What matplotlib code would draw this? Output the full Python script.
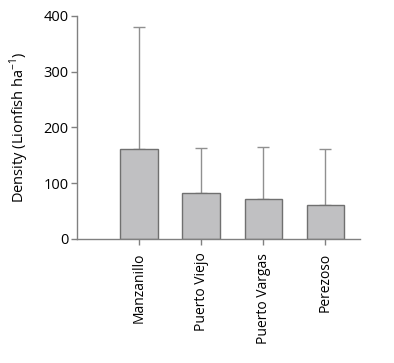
import matplotlib
matplotlib.use("Agg")
import matplotlib.pyplot as plt

# data
sites = ["Manzanillo", "Puerto Viejo", "Puerto Vargas", "Perezoso"]
density = [161, 82, 72, 61]
err_up = [219, 81, 93, 100]

plt.rcParams["font.family"] = ["Open Sans", "DejaVu Sans"]
plt.rcParams["mathtext.fontset"] = "custom"
plt.rcParams["mathtext.rm"] = "Open Sans"

fig = plt.figure(figsize=(3.94, 3.63), dpi=100)
ax = fig.add_axes([0.195, 0.342, 0.719, 0.614])

x = list(range(len(sites)))
ax.bar(x, density, width=0.6, color="#c0c0c2", edgecolor="#707070", linewidth=1.0, zorder=2)
ax.errorbar(x, density, yerr=[[0] * len(sites), err_up], fmt="none",
            ecolor="#909090", elinewidth=1.0, capsize=4, capthick=1.0, zorder=1)

ax.set_xlim(-1.0, 3.56)
ax.set_ylim(0, 400)
ax.set_yticks([0, 100, 200, 300, 400])
ax.set_xticks(x)
ax.set_xticklabels(sites, rotation=90, fontsize=10)
ax.tick_params(axis="y", labelsize=10.5, length=4, color="#808080", width=1, pad=2)
ax.tick_params(axis="x", length=4, color="#808080", width=1, pad=6)
ax.set_ylabel("Density (Lionfish ha$^{\\mathrm{-1}}$)", fontsize=10.5, labelpad=9)

for s in ["top", "right"]:
    ax.spines[s].set_visible(False)
for s in ["left", "bottom"]:
    ax.spines[s].set_color("#808080")
    ax.spines[s].set_linewidth(1.0)

fig.savefig("out.png", dpi=100)
